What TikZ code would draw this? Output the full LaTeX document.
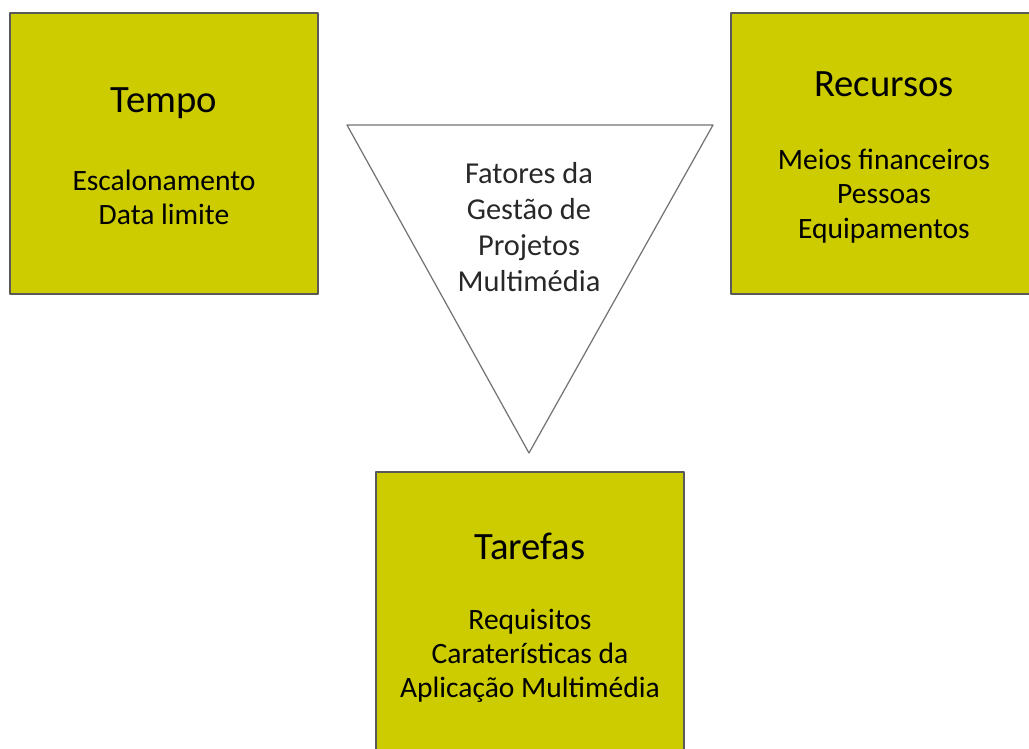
\documentclass[tikz,border=0pt]{standalone}
\usepackage{fontspec}
\setmainfont{Carlito}
\definecolor{oliva}{RGB}{204,204,0}
\definecolor{cinza}{RGB}{40,40,40}

\begin{document}
\begin{tikzpicture}[line cap=round,line join=round,x=0.02cm,y=-0.02cm,
  caixa/.style={draw=black!65,fill=oliva,line width=0.6pt},
  titulo/.style={font=\fontsize{22}{26}\selectfont},
  itens/.style={align=center,font=\fontsize{16.8}{19.5}\selectfont}]
\useasboundingbox (0,0) rectangle (1029,749);
\clip (0,0) rectangle (1029,749);

% caixas
\draw[caixa] (10,13) rectangle (318,294);
\draw[caixa] (731,13) rectangle (1037,294);
\draw[caixa] (376,472) rectangle (684,760);

% triangulo central
\draw[draw=black!55,line width=0.7pt] (347,125)--(713,125)--(529,453)--cycle;
\node[align=center,text=cinza,font=\fontsize{17.3}{20.5}\selectfont] (fatores) at (529,227)
  {Fatores da\\Gestão de\\Projetos\\Multimédia};

\node[titulo] (tempo) at (164,103) {Tempo};
\node[itens] (tempoitens) at (164,197) {Escalonamento\\Data limite};

\node[titulo] (recursos) at (884,84) {Recursos};
\node[itens] (recursositens) at (884,196) {Meios financeiros\\Pessoas\\Equipamentos};

\node[titulo] (tarefas) at (530,546) {Tarefas};
\node[itens] (tarefasitens) at (530,656) {Requisitos\\Caraterísticas da\\Aplicação Multimédia};
\end{tikzpicture}
\end{document}
